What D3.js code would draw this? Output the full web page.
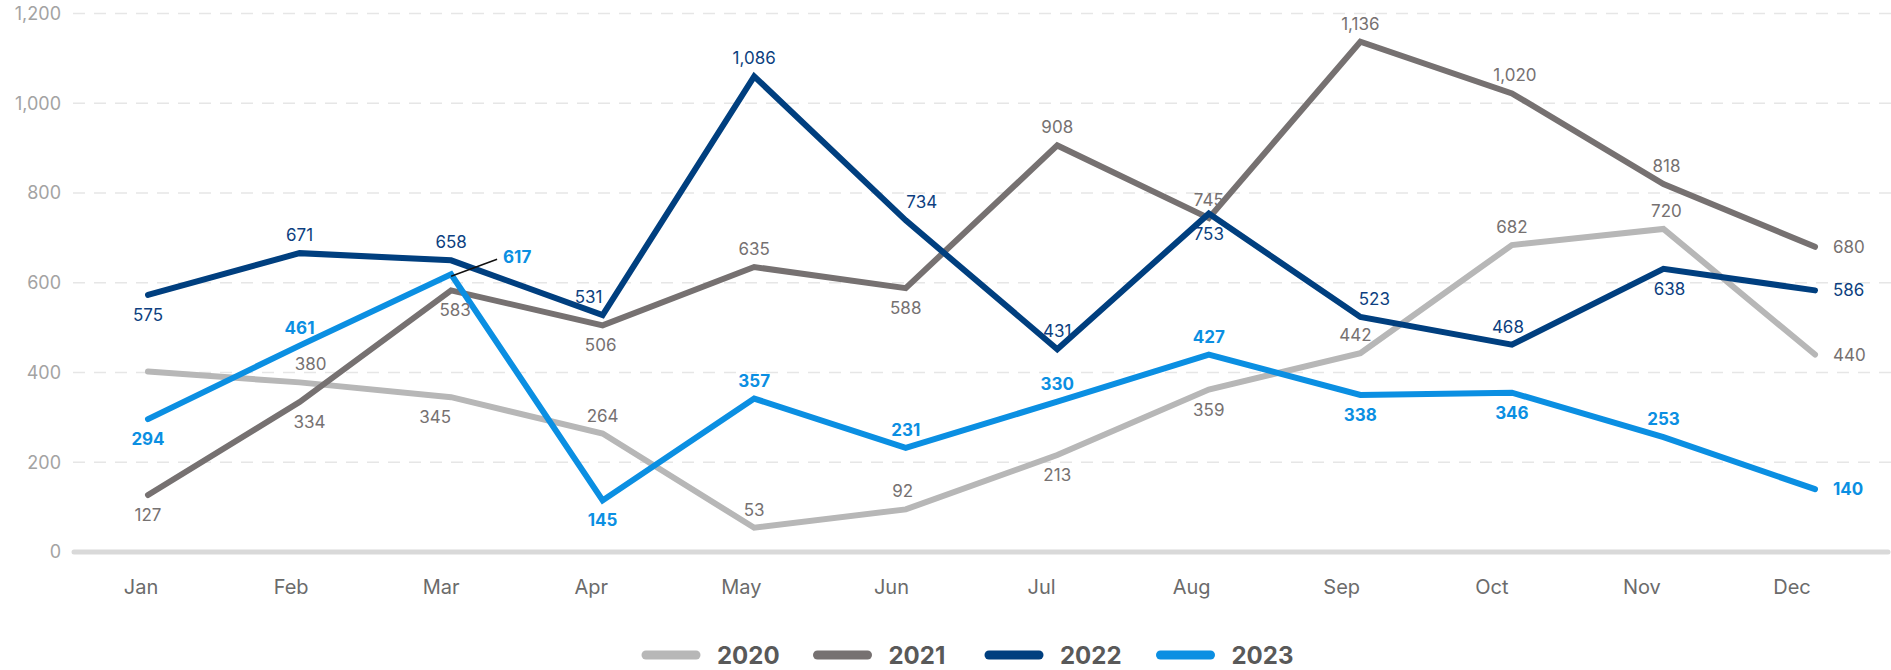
<!DOCTYPE html>
<html>
<head>
<meta charset="utf-8">
<script src="https://cdn.jsdelivr.net/npm/d3@7"></script>
<style>
  body { margin: 0; background: #fff; }
  svg { display: block; }
</style>
</head>
<body>
<div id="chart"></div>
<script>
// data: plotted values, and the numbers printed on the points
const months = ["Jan", "Feb", "Mar", "Apr", "May", "Jun", "Jul", "Aug", "Sep", "Oct", "Nov", "Dec"];
const years = ["2020", "2021", "2022", "2023"];

const values2020 = [402, 378, 345, 264, 54, 95, 216, 362, 443, 684, 720, 440];
const values2021 = [127, 334, 583, 505, 635, 588, 906, 744, 1137, 1022, 820, 680];
const values2022 = [573, 666, 650, 528, 1060, 739, 452, 754, 524, 462, 631, 583];
const values2023 = [296, 460, 619, 115, 342, 232, 335, 440, 350, 355, 256, 140];

const labels2020 = [null, 380, 345, 264, 53, 92, 213, 359, 442, 682, 720, 440];
const labels2021 = [127, 334, 583, 506, 635, 588, 908, 745, 1136, 1020, 818, 680];
const labels2022 = [575, 671, 658, 531, 1086, 734, 431, 753, 523, 468, 638, 586];
const labels2023 = [294, 461, 617, 145, 357, 231, 330, 427, 338, 346, 253, 140];

const yTicks = [0, 200, 400, 600, 800, 1000, 1200];

// where each point label sits: a = above, b = below, r = right, l = leader line
const place2020 = ["", "a+11", "b-16", "a", "a", "a-3", "b", "b", "a-5", "a", "a+3", "r"];
const place2021 = ["b", "b+10", "b+4", "b-2", "a", "b", "a", "a", "a", "a+3", "a+3", "r"];
const place2022 = ["b", "a", "a", "a-14", "a", "a+16", "a", "b", "a+14", "a-4", "b+6", "r"];
const place2023 = ["b", "a", "l", "b", "a", "a", "a", "a", "b", "b", "a", "r"];

const series = [
  {year: years[0], values: values2020, labels: labels2020, place: place2020, color: "#b7b7b7", text: "#767171", weight: 400},
  {year: years[1], values: values2021, labels: labels2021, place: place2021, color: "#767171", text: "#767171", weight: 400},
  {year: years[2], values: values2022, labels: labels2022, place: place2022, color: "#003f7f", text: "#0d3f80", weight: 400},
  {year: years[3], values: values2023, labels: labels2023, place: place2023, color: "#0b8fe2", text: "#0b8fe2", weight: 700}
];

const width = 1891;
const height = 670;
const fmt = d3.format(",");

const svg = d3.select("#chart").append("svg")
    .attr("width", width)
    .attr("height", height)
    .attr("font-family", "Inter, 'Noto Sans', sans-serif");

const x = d3.scalePoint().domain(months).range([148, 1815]);
const xLab = d3.scaleBand().domain(months).range([66, 1867]);
const y = d3.scaleLinear().domain([0, 1200]).range([552, 13.5]);

// dashed gridlines
svg.append("g")
  .selectAll("line")
  .data(yTicks.filter(d => d > 0))
  .join("line")
    .attr("x1", 73).attr("x2", width)
    .attr("y1", d => y(d)).attr("y2", d => y(d))
    .attr("stroke", "#e6e6e6")
    .attr("stroke-width", 1.5)
    .attr("stroke-dasharray", "12 9");

// zero line
svg.append("line")
    .attr("x1", 74).attr("x2", width - 3)
    .attr("y1", y(0)).attr("y2", y(0))
    .attr("stroke", "#d9d9d9")
    .attr("stroke-width", 5)
    .attr("stroke-linecap", "round");

// y axis labels
const yAxis = svg.append("g")
    .attr("transform", "translate(61,0)")
    .call(d3.axisLeft(y).tickValues(yTicks).tickFormat(fmt).tickSize(0).tickPadding(0));
yAxis.select(".domain").remove();
yAxis.selectAll("text")
    .attr("font-size", 18)
    .attr("fill", "#a3a3a3")
    .attr("font-family", "Inter, sans-serif");

// month labels
const xAxis = svg.append("g")
    .attr("transform", "translate(0,580)")
    .call(d3.axisBottom(xLab).tickSize(0).tickPadding(0));
xAxis.select(".domain").remove();
xAxis.selectAll("text")
    .attr("font-size", 20)
    .attr("fill", "#6b6b6b")
    .attr("font-family", "Inter, sans-serif");

const line = d3.line()
    .x((d, i) => x(months[i]))
    .y(d => y(d));

svg.append("g")
  .selectAll("path")
  .data(series)
  .join("path")
    .attr("d", d => line(d.values))
    .attr("fill", "none")
    .attr("stroke", d => d.color)
    .attr("stroke-width", 6)
    .attr("stroke-linejoin", "miter")
    .attr("stroke-linecap", "round");

// point labels
series.forEach(s => {
  const g = svg.append("g")
      .attr("font-size", 17)
      .attr("font-weight", s.weight)
      .attr("fill", s.text);
  s.labels.forEach((lab, i) => {
    if (lab == null) return;
    const px = x(months[i]);
    const py = y(s.values[i]);
    const code = s.place[i];
    const kind = code[0];
    const dx = code.length > 1 ? +code.slice(1) : 0;
    const t = g.append("text")
        .attr("dominant-baseline", "central")
        .text(fmt(lab));
    if (kind === "a") {
      t.attr("x", px + dx).attr("y", py - 18).attr("text-anchor", "middle");
    } else if (kind === "b") {
      t.attr("x", px + dx).attr("y", py + 20).attr("text-anchor", "middle");
    } else if (kind === "r") {
      t.attr("x", px + 18).attr("y", py).attr("text-anchor", "start");
    } else if (kind === "l") {
      svg.append("line")
          .attr("x1", px).attr("y1", py + 2)
          .attr("x2", px + 46).attr("y2", py - 15)
          .attr("stroke", "#111")
          .attr("stroke-width", 1.5);
      t.attr("x", px + 52).attr("y", py - 17).attr("text-anchor", "start");
    }
  });
});

// legend
const legend = svg.append("g")
    .attr("transform", "translate(642,655)");
const item = legend.selectAll("g")
  .data(series)
  .join("g")
    .attr("transform", (d, i) => `translate(${i * 171.5},0)`);
item.append("line")
    .attr("x1", 4).attr("x2", 54)
    .attr("stroke", d => d.color)
    .attr("stroke-width", 9)
    .attr("stroke-linecap", "round");
item.append("text")
    .attr("x", 75)
    .attr("dominant-baseline", "central")
    .attr("font-size", 24)
    .attr("font-weight", 700)
    .attr("fill", "#595959")
    .text(d => d.year);
</script>
</body>
</html>
